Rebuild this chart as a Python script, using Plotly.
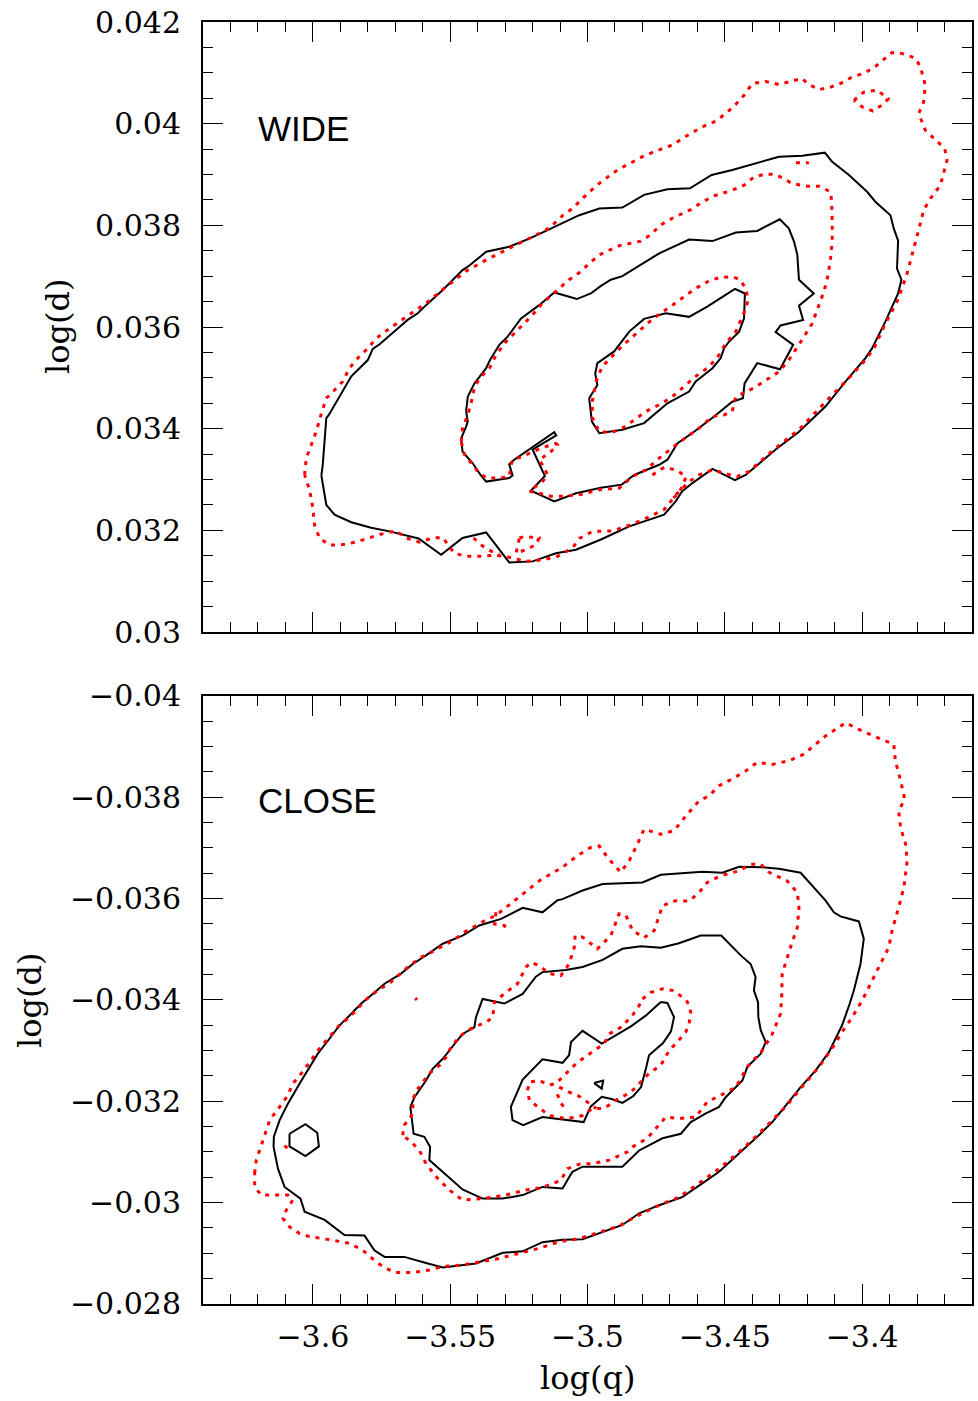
import plotly.graph_objects as go

# ---------------- data: contour paths as (log q, log d) pairs ----------------
WIDE_SOLID_OUTER = [(-3.5969,0.03308),(-3.5964,0.03329),(-3.5951,0.03421),(-3.5942,0.03427),(-3.5860,0.03503),(-3.5800,0.03535),(-3.5782,0.03557),(-3.5757,0.03566),(-3.5691,0.03597),(-3.5655,0.03614),(-3.5618,0.03627),(-3.5588,0.03643),(-3.5527,0.03673),(-3.5455,0.03712),(-3.5430,0.03721),(-3.5369,0.03748),(-3.5285,0.03758),(-3.5212,0.03774),(-3.5151,0.03789),(-3.5091,0.03804),(-3.5030,0.03820),(-3.4957,0.03833),(-3.4873,0.03835),(-3.4794,0.03860),(-3.4709,0.03871),(-3.4627,0.03873),(-3.4548,0.03899),(-3.4473,0.03909),(-3.4388,0.03922),(-3.4303,0.03935),(-3.4218,0.03937),(-3.4136,0.03943),(-3.4109,0.03925),(-3.4048,0.03899),(-3.3982,0.03866),(-3.3951,0.03846),(-3.3897,0.03820),(-3.3885,0.03794),(-3.3869,0.03770),(-3.3873,0.03715),(-3.3857,0.03693),(-3.3869,0.03666),(-3.3915,0.03611),(-3.3964,0.03558),(-3.3988,0.03539),(-3.4060,0.03493),(-3.4133,0.03444),(-3.4230,0.03394),(-3.4315,0.03359),(-3.4424,0.03309),(-3.4463,0.03299),(-3.4545,0.03321),(-3.4618,0.03293),(-3.4655,0.03277),(-3.4679,0.03257),(-3.4721,0.03231),(-3.4848,0.03208),(-3.4951,0.03182),(-3.5042,0.03162),(-3.5115,0.03155),(-3.5200,0.03139),(-3.5285,0.03137),(-3.5369,0.03196),(-3.5455,0.03185),(-3.5533,0.03152),(-3.5615,0.03184),(-3.5721,0.03198),(-3.5788,0.03205),(-3.5860,0.03216),(-3.5921,0.03231),(-3.5951,0.03250)]

WIDE_SOLID_MID = [(-3.5442,0.03434),(-3.5436,0.03463),(-3.5412,0.03489),(-3.5369,0.03519),(-3.5355,0.03535),(-3.5321,0.03565),(-3.5291,0.03581),(-3.5242,0.03617),(-3.5176,0.03643),(-3.5121,0.03668),(-3.5039,0.03655),(-3.4988,0.03666),(-3.4951,0.03681),(-3.4915,0.03693),(-3.4873,0.03700),(-3.4800,0.03725),(-3.4739,0.03745),(-3.4630,0.03772),(-3.4545,0.03769),(-3.4460,0.03786),(-3.4382,0.03789),(-3.4300,0.03812),(-3.4267,0.03794),(-3.4248,0.03768),(-3.4236,0.03742),(-3.4230,0.03693),(-3.4176,0.03666),(-3.4230,0.03642),(-3.4215,0.03614),(-3.4297,0.03603),(-3.4315,0.03590),(-3.4251,0.03565),(-3.4299,0.03517),(-3.4382,0.03529),(-3.4428,0.03489),(-3.4434,0.03460),(-3.4473,0.03453),(-3.4539,0.03424),(-3.4612,0.03394),(-3.4673,0.03371),(-3.4709,0.03339),(-3.4739,0.03329),(-3.4830,0.03309),(-3.4875,0.03290),(-3.4951,0.03284),(-3.5042,0.03273),(-3.5121,0.03257),(-3.5206,0.03278),(-3.5155,0.03307),(-3.5200,0.03359),(-3.5114,0.03387),(-3.5121,0.03393),(-3.5267,0.03339),(-3.5285,0.03330),(-3.5273,0.03308),(-3.5285,0.03303),(-3.5369,0.03296),(-3.5388,0.03308),(-3.5418,0.03332),(-3.5455,0.03355),(-3.5460,0.03381),(-3.5442,0.03404),(-3.5436,0.03414)]

WIDE_SOLID_IN = [(-3.4994,0.03460),(-3.4964,0.03486),(-3.4972,0.03509),(-3.4964,0.03529),(-3.4903,0.03552),(-3.4848,0.03591),(-3.4794,0.03616),(-3.4715,0.03627),(-3.4630,0.03620),(-3.4564,0.03640),(-3.4463,0.03675),(-3.4427,0.03666),(-3.4430,0.03617),(-3.4448,0.03591),(-3.4485,0.03571),(-3.4503,0.03558),(-3.4515,0.03539),(-3.4545,0.03519),(-3.4606,0.03493),(-3.4630,0.03473),(-3.4709,0.03450),(-3.4794,0.03411),(-3.4873,0.03398),(-3.4957,0.03391),(-3.4984,0.03414)]

WIDE_DOT_OUTER = [(-3.6030,0.03309),(-3.6024,0.03342),(-3.6006,0.03368),(-3.5988,0.03394),(-3.5969,0.03430),(-3.5951,0.03460),(-3.5921,0.03476),(-3.5891,0.03493),(-3.5867,0.03519),(-3.5836,0.03539),(-3.5800,0.03558),(-3.5769,0.03578),(-3.5721,0.03597),(-3.5667,0.03617),(-3.5636,0.03630),(-3.5588,0.03647),(-3.5515,0.03679),(-3.5442,0.03710),(-3.5369,0.03732),(-3.5297,0.03751),(-3.5224,0.03771),(-3.5151,0.03791),(-3.5127,0.03801),(-3.5091,0.03819),(-3.5055,0.03833),(-3.5018,0.03853),(-3.4964,0.03880),(-3.4891,0.03909),(-3.4800,0.03935),(-3.4757,0.03945),(-3.4691,0.03958),(-3.4624,0.03981),(-3.4569,0.03997),(-3.4533,0.04005),(-3.4497,0.04020),(-3.4467,0.04034),(-3.4430,0.04056),(-3.4400,0.04079),(-3.4351,0.04083),(-3.4303,0.04077),(-3.4255,0.04084),(-3.4218,0.04089),(-3.4200,0.04079),(-3.4157,0.04067),(-3.4115,0.04072),(-3.4079,0.04079),(-3.4036,0.04092),(-3.4000,0.04098),(-3.3957,0.04110),(-3.3921,0.04127),(-3.3891,0.04140),(-3.3855,0.04138),(-3.3806,0.04129),(-3.3788,0.04112),(-3.3770,0.04076),(-3.3776,0.04043),(-3.3794,0.04020),(-3.3770,0.03987),(-3.3733,0.03968),(-3.3699,0.03951),(-3.3691,0.03928),(-3.3703,0.03902),(-3.3715,0.03879),(-3.3751,0.03853),(-3.3776,0.03830),(-3.3788,0.03804),(-3.3806,0.03768),(-3.3820,0.03735),(-3.3836,0.03706),(-3.3855,0.03676),(-3.3873,0.03650),(-3.3915,0.03607),(-3.3957,0.03558),(-3.3988,0.03535),(-3.4060,0.03493),(-3.4133,0.03453),(-3.4230,0.03398),(-3.4315,0.03362),(-3.4412,0.03316),(-3.4455,0.03306),(-3.4479,0.03309),(-3.4545,0.03319),(-3.4594,0.03309),(-3.4630,0.03296),(-3.4673,0.03273),(-3.4721,0.03241),(-3.4794,0.03222),(-3.4848,0.03210),(-3.4909,0.03199),(-3.4982,0.03198),(-3.5030,0.03184),(-3.5055,0.03165),(-3.5109,0.03149),(-3.5164,0.03142),(-3.5224,0.03139),(-3.5285,0.03147),(-3.5333,0.03151),(-3.5394,0.03149),(-3.5442,0.03149),(-3.5485,0.03155),(-3.5509,0.03172),(-3.5527,0.03186),(-3.5564,0.03185),(-3.5612,0.03177),(-3.5660,0.03185),(-3.5697,0.03199),(-3.5757,0.03192),(-3.5806,0.03184),(-3.5842,0.03177),(-3.5891,0.03172),(-3.5939,0.03171),(-3.5976,0.03185),(-3.5994,0.03211),(-3.6000,0.03244),(-3.6012,0.03280)]

WIDE_DOT_ISLAND = [(-3.4030,0.04046),(-3.3994,0.04062),(-3.3945,0.04066),(-3.3905,0.04049),(-3.3921,0.04039),(-3.3961,0.04025),(-3.4000,0.04033)]

WIDE_DOT_MID = [(-3.5460,0.03375),(-3.5455,0.03401),(-3.5436,0.03427),(-3.5424,0.03450),(-3.5412,0.03480),(-3.5394,0.03499),(-3.5357,0.03519),(-3.5333,0.03545),(-3.5297,0.03571),(-3.5260,0.03591),(-3.5230,0.03607),(-3.5200,0.03624),(-3.5164,0.03647),(-3.5103,0.03676),(-3.5067,0.03693),(-3.5024,0.03709),(-3.4994,0.03725),(-3.4957,0.03742),(-3.4921,0.03751),(-3.4885,0.03760),(-3.4806,0.03769),(-3.4769,0.03782),(-3.4733,0.03801),(-3.4691,0.03814),(-3.4624,0.03831),(-3.4582,0.03846),(-3.4539,0.03858),(-3.4473,0.03869),(-3.4430,0.03879),(-3.4394,0.03895),(-3.4351,0.03901),(-3.4315,0.03900),(-3.4285,0.03892),(-3.4255,0.03882),(-3.4200,0.03877),(-3.4157,0.03877),(-3.4115,0.03866),(-3.4111,0.03846),(-3.4109,0.03807),(-3.4109,0.03768),(-3.4115,0.03735),(-3.4124,0.03702),(-3.4139,0.03670),(-3.4160,0.03637),(-3.4182,0.03607),(-3.4215,0.03578),(-3.4230,0.03565),(-3.4267,0.03535),(-3.4303,0.03512),(-3.4351,0.03496),(-3.4394,0.03480),(-3.4460,0.03463),(-3.4473,0.03434),(-3.4503,0.03427),(-3.4545,0.03424),(-3.4594,0.03401),(-3.4636,0.03385),(-3.4679,0.03368),(-3.4739,0.03342),(-3.4788,0.03319),(-3.4836,0.03306),(-3.4885,0.03283),(-3.4957,0.03280),(-3.5030,0.03270),(-3.5091,0.03267),(-3.5133,0.03267),(-3.5176,0.03273),(-3.5212,0.03277),(-3.5164,0.03296),(-3.5145,0.03309),(-3.5164,0.03329),(-3.5176,0.03339),(-3.5139,0.03352),(-3.5109,0.03368),(-3.5115,0.03371),(-3.5151,0.03365),(-3.5200,0.03355),(-3.5236,0.03345),(-3.5273,0.03339),(-3.5279,0.03326),(-3.5285,0.03306),(-3.5321,0.03303),(-3.5369,0.03303),(-3.5400,0.03316),(-3.5418,0.03329),(-3.5448,0.03349)]

WIDE_DOT_IN = [(-3.4983,0.03453),(-3.4968,0.03493),(-3.4947,0.03522),(-3.4910,0.03542),(-3.4877,0.03561),(-3.4823,0.03587),(-3.4765,0.03615),(-3.4691,0.03643),(-3.4648,0.03660),(-3.4606,0.03676),(-3.4557,0.03691),(-3.4521,0.03697),(-3.4473,0.03699),(-3.4448,0.03694),(-3.4424,0.03677),(-3.4415,0.03653),(-3.4427,0.03632),(-3.4442,0.03614),(-3.4460,0.03591),(-3.4497,0.03568),(-3.4521,0.03545),(-3.4557,0.03522),(-3.4606,0.03503),(-3.4642,0.03486),(-3.4691,0.03463),(-3.4739,0.03447),(-3.4788,0.03434),(-3.4830,0.03417),(-3.4873,0.03401),(-3.4909,0.03393),(-3.4957,0.03394),(-3.4982,0.03421)]

WIDE_DOT_BIT_A = [(-3.4241,0.03923),(-3.4194,0.03923)]
WIDE_DOT_BIT_B = [(-3.4764,0.03309),(-3.4721,0.03324),(-3.4679,0.03319),(-3.4640,0.03306),(-3.4667,0.03273),(-3.4703,0.03257)]
WIDE_DOT_BIT_C = [(-3.5415,0.03185),(-3.5382,0.03169),(-3.5351,0.03159),(-3.5321,0.03153)]
WIDE_DOT_BIT_D = [(-3.5248,0.03185),(-3.5230,0.03188),(-3.5176,0.03185),(-3.5188,0.03172),(-3.5224,0.03162),(-3.5260,0.03155)]

CLOSE_SOLID_OUTER = [(-3.6143,-0.03110),(-3.6142,-0.03130),(-3.6121,-0.03163),(-3.6091,-0.03195),(-3.6048,-0.03235),(-3.6006,-0.03271),(-3.5982,-0.03294),(-3.5939,-0.03324),(-3.5903,-0.03350),(-3.5867,-0.03369),(-3.5824,-0.03393),(-3.5782,-0.03412),(-3.5739,-0.03432),(-3.5679,-0.03452),(-3.5636,-0.03471),(-3.5588,-0.03488),(-3.5527,-0.03511),(-3.5455,-0.03527),(-3.5394,-0.03547),(-3.5315,-0.03560),(-3.5236,-0.03582),(-3.5164,-0.03573),(-3.5109,-0.03597),(-3.5091,-0.03599),(-3.5018,-0.03616),(-3.4945,-0.03629),(-3.4800,-0.03632),(-3.4733,-0.03647),(-3.4582,-0.03653),(-3.4509,-0.03651),(-3.4448,-0.03663),(-3.4364,-0.03662),(-3.4303,-0.03659),(-3.4224,-0.03651),(-3.4169,-0.03619),(-3.4133,-0.03596),(-3.4103,-0.03573),(-3.4079,-0.03565),(-3.4012,-0.03555),(-3.3994,-0.03521),(-3.4006,-0.03471),(-3.4030,-0.03419),(-3.4045,-0.03393),(-3.4073,-0.03350),(-3.4121,-0.03297),(-3.4169,-0.03261),(-3.4224,-0.03228),(-3.4273,-0.03195),(-3.4327,-0.03159),(-3.4376,-0.03133),(-3.4448,-0.03097),(-3.4521,-0.03061),(-3.4582,-0.03038),(-3.4655,-0.03011),(-3.4739,-0.02995),(-3.4812,-0.02979),(-3.4873,-0.02956),(-3.5018,-0.02928),(-3.5091,-0.02927),(-3.5164,-0.02922),(-3.5236,-0.02904),(-3.5309,-0.02901),(-3.5406,-0.02880),(-3.5455,-0.02877),(-3.5527,-0.02872),(-3.5588,-0.02881),(-3.5667,-0.02893),(-3.5739,-0.02893),(-3.5776,-0.02906),(-3.5812,-0.02935),(-3.5885,-0.02936),(-3.5957,-0.02966),(-3.6030,-0.02982),(-3.6045,-0.03008),(-3.6103,-0.03031),(-3.6127,-0.03067)]

CLOSE_SOLID_HEX = [(-3.6085,-0.03136),(-3.6027,-0.03155),(-3.5984,-0.03138),(-3.5978,-0.03111),(-3.6027,-0.03092),(-3.6085,-0.03111)]

CLOSE_SOLID_MID = [(-3.5645,-0.03189),(-3.5630,-0.03208),(-3.5588,-0.03241),(-3.5564,-0.03264),(-3.5527,-0.03284),(-3.5503,-0.03300),(-3.5455,-0.03333),(-3.5412,-0.03346),(-3.5406,-0.03366),(-3.5382,-0.03402),(-3.5303,-0.03393),(-3.5236,-0.03412),(-3.5188,-0.03446),(-3.5164,-0.03455),(-3.5079,-0.03459),(-3.5018,-0.03465),(-3.4945,-0.03479),(-3.4873,-0.03501),(-3.4806,-0.03506),(-3.4733,-0.03503),(-3.4667,-0.03512),(-3.4588,-0.03527),(-3.4513,-0.03527),(-3.4442,-0.03488),(-3.4406,-0.03471),(-3.4388,-0.03445),(-3.4394,-0.03419),(-3.4379,-0.03395),(-3.4378,-0.03366),(-3.4369,-0.03340),(-3.4351,-0.03317),(-3.4369,-0.03294),(-3.4418,-0.03268),(-3.4436,-0.03241),(-3.4497,-0.03208),(-3.4521,-0.03189),(-3.4569,-0.03176),(-3.4624,-0.03159),(-3.4660,-0.03136),(-3.4727,-0.03127),(-3.4812,-0.03103),(-3.4873,-0.03071),(-3.5018,-0.03071),(-3.5055,-0.03061),(-3.5091,-0.03028),(-3.5164,-0.03031),(-3.5236,-0.03015),(-3.5309,-0.03008),(-3.5382,-0.03008),(-3.5455,-0.03026),(-3.5576,-0.03084),(-3.5573,-0.03110),(-3.5594,-0.03130),(-3.5633,-0.03136),(-3.5639,-0.03166)]

CLOSE_SOLID_IN = [(-3.4733,-0.03396),(-3.4709,-0.03394),(-3.4685,-0.03366),(-3.4696,-0.03338),(-3.4725,-0.03315),(-3.4776,-0.03291),(-3.4787,-0.03265),(-3.4805,-0.03228),(-3.4834,-0.03210),(-3.4873,-0.03197),(-3.4909,-0.03204),(-3.4948,-0.03209),(-3.4988,-0.03190),(-3.5014,-0.03159),(-3.5164,-0.03169),(-3.5188,-0.03164),(-3.5234,-0.03153),(-3.5273,-0.03163),(-3.5279,-0.03189),(-3.5236,-0.03243),(-3.5164,-0.03283),(-3.5091,-0.03276),(-3.5067,-0.03291),(-3.5060,-0.03317),(-3.5018,-0.03339),(-3.4948,-0.03314),(-3.4842,-0.03348),(-3.4788,-0.03369)]

CLOSE_SOLID_TRI = [(-3.4976,-0.03236),(-3.4943,-0.03241),(-3.4948,-0.03225)]

CLOSE_DOT_OUTER = [(-3.6212,-0.03058),(-3.6206,-0.03084),(-3.6194,-0.03103),(-3.6176,-0.03133),(-3.6157,-0.03163),(-3.6121,-0.03189),(-3.6091,-0.03212),(-3.6073,-0.03235),(-3.6042,-0.03255),(-3.6012,-0.03277),(-3.5982,-0.03300),(-3.5951,-0.03320),(-3.5903,-0.03350),(-3.5867,-0.03366),(-3.5836,-0.03384),(-3.5806,-0.03401),(-3.5764,-0.03419),(-3.5721,-0.03433),(-3.5685,-0.03450),(-3.5648,-0.03468),(-3.5606,-0.03484),(-3.5569,-0.03494),(-3.5527,-0.03507),(-3.5491,-0.03517),(-3.5448,-0.03534),(-3.5406,-0.03547),(-3.5369,-0.03558),(-3.5333,-0.03567),(-3.5297,-0.03583),(-3.5260,-0.03599),(-3.5218,-0.03617),(-3.5176,-0.03635),(-3.5133,-0.03649),(-3.5091,-0.03662),(-3.5036,-0.03685),(-3.4988,-0.03701),(-3.4957,-0.03704),(-3.4927,-0.03681),(-3.4879,-0.03652),(-3.4848,-0.03675),(-3.4818,-0.03708),(-3.4794,-0.03737),(-3.4733,-0.03727),(-3.4685,-0.03734),(-3.4636,-0.03767),(-3.4594,-0.03793),(-3.4557,-0.03803),(-3.4521,-0.03823),(-3.4473,-0.03836),(-3.4424,-0.03852),(-3.4382,-0.03869),(-3.4327,-0.03865),(-3.4267,-0.03872),(-3.4212,-0.03885),(-3.4169,-0.03905),(-3.4133,-0.03921),(-3.4060,-0.03947),(-3.4012,-0.03934),(-3.3933,-0.03915),(-3.3885,-0.03905),(-3.3879,-0.03872),(-3.3860,-0.03833),(-3.3845,-0.03796),(-3.3867,-0.03773),(-3.3860,-0.03740),(-3.3842,-0.03708),(-3.3836,-0.03675),(-3.3848,-0.03622),(-3.3867,-0.03583),(-3.3891,-0.03537),(-3.3903,-0.03504),(-3.3939,-0.03465),(-3.3964,-0.03435),(-3.4000,-0.03399),(-3.4036,-0.03366),(-3.4073,-0.03337),(-3.4103,-0.03310),(-3.4157,-0.03268),(-3.4224,-0.03225),(-3.4279,-0.03189),(-3.4327,-0.03163),(-3.4376,-0.03136),(-3.4448,-0.03100),(-3.4521,-0.03067),(-3.4606,-0.03034),(-3.4667,-0.03011),(-3.4751,-0.02992),(-3.4836,-0.02969),(-3.4885,-0.02954),(-3.4969,-0.02939),(-3.5030,-0.02929),(-3.5103,-0.02923),(-3.5176,-0.02910),(-3.5248,-0.02900),(-3.5321,-0.02890),(-3.5394,-0.02883),(-3.5455,-0.02877),(-3.5527,-0.02874),(-3.5576,-0.02867),(-3.5636,-0.02862),(-3.5697,-0.02862),(-3.5733,-0.02870),(-3.5769,-0.02883),(-3.5818,-0.02906),(-3.5867,-0.02920),(-3.5939,-0.02927),(-3.6012,-0.02933),(-3.6048,-0.02939),(-3.6085,-0.02952),(-3.6109,-0.02969),(-3.6097,-0.02985),(-3.6073,-0.03005),(-3.6091,-0.03015),(-3.6139,-0.03015),(-3.6188,-0.03015),(-3.6212,-0.03031)]

CLOSE_DOT_MID = [(-3.5673,-0.03133),(-3.5667,-0.03153),(-3.5636,-0.03176),(-3.5636,-0.03202),(-3.5624,-0.03222),(-3.5612,-0.03228),(-3.5576,-0.03255),(-3.5539,-0.03271),(-3.5515,-0.03287),(-3.5497,-0.03307),(-3.5467,-0.03327),(-3.5436,-0.03340),(-3.5406,-0.03348),(-3.5369,-0.03356),(-3.5345,-0.03366),(-3.5339,-0.03396),(-3.5297,-0.03415),(-3.5255,-0.03432),(-3.5224,-0.03465),(-3.5206,-0.03474),(-3.5176,-0.03468),(-3.5139,-0.03452),(-3.5097,-0.03448),(-3.5067,-0.03471),(-3.5048,-0.03504),(-3.5045,-0.03527),(-3.5018,-0.03524),(-3.4964,-0.03501),(-3.4915,-0.03527),(-3.4885,-0.03570),(-3.4860,-0.03567),(-3.4836,-0.03537),(-3.4794,-0.03523),(-3.4757,-0.03537),(-3.4727,-0.03586),(-3.4679,-0.03596),(-3.4630,-0.03595),(-3.4594,-0.03612),(-3.4564,-0.03632),(-3.4515,-0.03645),(-3.4448,-0.03655),(-3.4406,-0.03668),(-3.4369,-0.03668),(-3.4339,-0.03652),(-3.4273,-0.03635),(-3.4236,-0.03612),(-3.4230,-0.03583),(-3.4236,-0.03543),(-3.4255,-0.03514),(-3.4273,-0.03481),(-3.4291,-0.03452),(-3.4293,-0.03406),(-3.4297,-0.03373),(-3.4327,-0.03333),(-3.4364,-0.03300),(-3.4418,-0.03268),(-3.4460,-0.03228),(-3.4515,-0.03212),(-3.4564,-0.03199),(-3.4606,-0.03169),(-3.4667,-0.03166),(-3.4715,-0.03169),(-3.4751,-0.03146),(-3.4782,-0.03127),(-3.4836,-0.03110),(-3.4855,-0.03100),(-3.4921,-0.03084),(-3.4982,-0.03077),(-3.5030,-0.03076),(-3.5073,-0.03067),(-3.5097,-0.03044),(-3.5164,-0.03030),(-3.5224,-0.03025),(-3.5297,-0.03015),(-3.5382,-0.03008),(-3.5455,-0.03005),(-3.5503,-0.03025),(-3.5551,-0.03051),(-3.5588,-0.03077),(-3.5612,-0.03103),(-3.5642,-0.03120)]

CLOSE_DOT_IN = [(-3.4800,-0.03402),(-3.4769,-0.03415),(-3.4727,-0.03422),(-3.4691,-0.03419),(-3.4655,-0.03406),(-3.4636,-0.03396),(-3.4624,-0.03376),(-3.4630,-0.03353),(-3.4642,-0.03337),(-3.4673,-0.03317),(-3.4703,-0.03300),(-3.4733,-0.03271),(-3.4776,-0.03255),(-3.4812,-0.03235),(-3.4842,-0.03218),(-3.4897,-0.03202),(-3.4939,-0.03186),(-3.4982,-0.03186),(-3.5018,-0.03172),(-3.5042,-0.03169),(-3.5079,-0.03166),(-3.5139,-0.03172),(-3.5182,-0.03189),(-3.5212,-0.03202),(-3.5218,-0.03222),(-3.5212,-0.03238),(-3.5176,-0.03241),(-3.5139,-0.03232),(-3.5115,-0.03235),(-3.5085,-0.03251),(-3.5048,-0.03271),(-3.5018,-0.03284),(-3.4982,-0.03297),(-3.4939,-0.03314),(-3.4921,-0.03333),(-3.4879,-0.03346),(-3.4842,-0.03366),(-3.4818,-0.03383)]

CLOSE_DOT_BIT_A = [(-3.5103,-0.03228),(-3.5067,-0.03218),(-3.5030,-0.03210),(-3.5001,-0.03198),(-3.4968,-0.03186)]
CLOSE_DOT_BIT_B = [(-3.5110,-0.03214),(-3.5096,-0.03196),(-3.5077,-0.03182)]
CLOSE_DOT_BIT_C = [(-3.5333,-0.03573),(-3.5339,-0.03550),(-3.5303,-0.03547),(-3.5291,-0.03537)]
CLOSE_DOT_BIT_D = [(-3.5627,-0.03404),(-3.5621,-0.03400)]
CLOSE_DOT_BIT_E = [(-3.6103,-0.03113),(-3.6081,-0.03100)]

Q_TICKS = [-3.6, -3.55, -3.5, -3.45, -3.4]
Q_TICK_TEXT = ["\u22123.6", "\u22123.55", "\u22123.5", "\u22123.45", "\u22123.4"]
WIDE_D_TICKS = [0.03, 0.032, 0.034, 0.036, 0.038, 0.04, 0.042]
WIDE_D_TEXT = ["0.03", "0.032", "0.034", "0.036", "0.038", "0.04", "0.042"]
CLOSE_D_TICKS = [-0.04, -0.038, -0.036, -0.034, -0.032, -0.03, -0.028]
CLOSE_D_TEXT = ["\u22120.04", "\u22120.038", "\u22120.036", "\u22120.034", "\u22120.032", "\u22120.03", "\u22120.028"]

# ---------------- figure ----------------
fig = go.Figure()
SOLID = dict(color="black", width=2)
DOTTED = dict(color="#ff0000", width=3, dash="4px,6px")


def add(pts, xa, ya, style, closed=True):
    xs = [p[0] for p in pts]
    ys = [p[1] for p in pts]
    if closed:
        xs.append(xs[0])
        ys.append(ys[0])
    fig.add_trace(go.Scatter(x=xs, y=ys, mode="lines", line=style,
                             xaxis=xa, yaxis=ya, showlegend=False,
                             hoverinfo="skip"))


for c in [WIDE_SOLID_OUTER, WIDE_SOLID_MID, WIDE_SOLID_IN]:
    add(c, "x", "y", SOLID)
for c in [WIDE_DOT_OUTER, WIDE_DOT_ISLAND, WIDE_DOT_MID, WIDE_DOT_IN]:
    add(c, "x", "y", DOTTED)
for c in [WIDE_DOT_BIT_A, WIDE_DOT_BIT_B, WIDE_DOT_BIT_C]:
    add(c, "x", "y", DOTTED, closed=False)
add(WIDE_DOT_BIT_D, "x", "y", DOTTED)

for c in [CLOSE_SOLID_OUTER, CLOSE_SOLID_HEX, CLOSE_SOLID_MID, CLOSE_SOLID_IN, CLOSE_SOLID_TRI]:
    add(c, "x2", "y2", SOLID)
for c in [CLOSE_DOT_OUTER, CLOSE_DOT_MID, CLOSE_DOT_IN]:
    add(c, "x2", "y2", DOTTED)
for c in [CLOSE_DOT_BIT_A, CLOSE_DOT_BIT_B, CLOSE_DOT_BIT_C, CLOSE_DOT_BIT_D, CLOSE_DOT_BIT_E]:
    add(c, "x2", "y2", DOTTED, closed=False)

TICKFONT = dict(family="DejaVu Serif", size=30, color="black")
common = dict(showline=True, linecolor="black", linewidth=2, mirror="allticks",
              ticks="inside", ticklen=20, tickwidth=1.2, tickcolor="black",
              showgrid=False, zeroline=False, tickfont=TICKFONT)

xcommon = dict(common, range=[-3.64, -3.36], tickmode="array", tickvals=Q_TICKS,
               ticktext=Q_TICK_TEXT,
               minor=dict(tickmode="linear", tick0=-3.6, dtick=0.01, ticks="inside",
                          ticklen=10, tickwidth=1.2, tickcolor="black"))

fig.update_layout(
    width=978, height=1401,
    margin=dict(l=203, r=4, t=20, b=97),
    paper_bgcolor="white", plot_bgcolor="white",
    xaxis=dict(xcommon, domain=[0, 1], anchor="y", showticklabels=False),
    yaxis=dict(common, domain=[673 / 1284, 1], anchor="x", range=[0.03, 0.042],
               tickmode="array", tickvals=WIDE_D_TICKS, ticktext=WIDE_D_TEXT,
               ticklabelstandoff=14,
               minor=dict(tickmode="linear", tick0=0.03, dtick=0.0005, ticks="inside",
                          ticklen=10, tickwidth=1.2, tickcolor="black")),
    xaxis2=dict(xcommon, domain=[0, 1], anchor="y2", showticklabels=True,
                ticklabelstandoff=5),
    yaxis2=dict(common, domain=[0, 609 / 1284], anchor="x2", range=[-0.028, -0.04],
                tickmode="array", tickvals=CLOSE_D_TICKS, ticktext=CLOSE_D_TEXT,
                ticklabelstandoff=14,
                minor=dict(tickmode="linear", tick0=-0.04, dtick=0.0005, ticks="inside",
                           ticklen=10, tickwidth=1.2, tickcolor="black")),
    annotations=[
        dict(text="WIDE", x=(256 - 203) / 771, y=(1304 - 127) / 1284, xref="paper", yref="paper",
             xanchor="left", yanchor="middle", showarrow=False,
             font=dict(family="Liberation Sans", size=35, color="black")),
        dict(text="CLOSE", x=(256 - 203) / 771, y=(1304 - 800) / 1284, xref="paper", yref="paper",
             xanchor="left", yanchor="middle", showarrow=False,
             font=dict(family="Liberation Sans", size=35, color="black")),
        dict(text="log(d)", x=(57 - 203) / 771, y=(1304 - 325) / 1284, xref="paper", yref="paper",
             xanchor="center", yanchor="middle", showarrow=False, textangle=-90,
             font=dict(family="DejaVu Serif", size=32, color="black")),
        dict(text="log(d)", x=(30 - 203) / 771, y=(1304 - 1000) / 1284, xref="paper", yref="paper",
             xanchor="center", yanchor="middle", showarrow=False, textangle=-90,
             font=dict(family="DejaVu Serif", size=32, color="black")),
        dict(text="log(q)", x=(588 - 203) / 771, y=(1304 - 1378) / 1284, xref="paper", yref="paper",
             xanchor="center", yanchor="middle", showarrow=False,
             font=dict(family="DejaVu Serif", size=32, color="black")),
    ],
)

fig.write_html("out.html")
